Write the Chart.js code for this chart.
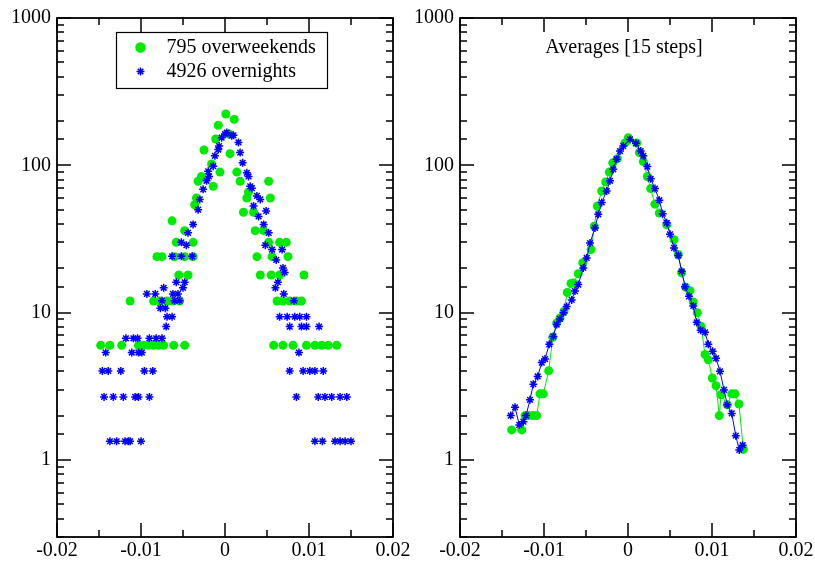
<!DOCTYPE html>
<html>
<head>
<meta charset="utf-8">
<script src="https://cdn.jsdelivr.net/npm/chart.js@4/dist/chart.umd.min.js"></script>
<style>
html,body{margin:0;padding:0;background:#fff;overflow:hidden;width:815px;height:562px;}
#w1{position:absolute;left:0;top:0;}
#w2{position:absolute;left:400px;top:0;}
</style>
</head>
<body>
<div id="w1"><canvas id="c1" width="430" height="562"></canvas></div>
<div id="w2"><canvas id="c2" width="430" height="562"></canvas></div>
<script>
// ---------- tick labels ----------
const xTickLabels = ['-0.02', '-0.01', '0', '0.01', '0.02'];
const yTickLabels = ['1', '10', '100', '1000'];

// ---------- left panel: 795 overweekends ----------
const weekendX = [
  -0.0148,-0.0137,-0.0123,-0.0103,-0.0097,-0.0091,-0.0085,-0.0079,-0.0073,-0.0061,-0.0048,
  0.0058,0.0069,0.0081,0.0097,0.0107,0.0115,0.0123,0.0133,
  -0.0113,-0.0085,-0.0077,-0.0069,-0.0062,-0.0054,0.0062,0.0069,0.0077,0.0085,0.0091,
  -0.0055,-0.0044,0.0042,0.0055,0.0065,0.0094,
  -0.0081,-0.0075,-0.0060,-0.0048,-0.0038,0.0038,0.0056,0.0075,
  -0.0058,-0.0038,0.0052,0.0065,0.0073,
  -0.0048,0.0036,0.0046,
  -0.0063,
  0.0022,0.0034,
  -0.0036,
  -0.0034,0.0026,0.0054,
  0.0028,
  -0.0014,
  -0.0032,0.0018,0.0052,
  -0.0028,
  -0.0006,0.0014,
  -0.0016,
  0.0006,
  -0.0025,
  -0.0011,
  0.0005,
  -0.0008,
  0.0011,
  0.0001
];
const weekendY = [
  6,6,6,6,6,6,6,6,6,6,6,
  6,6,6,6,6,6,6,6,
  12,12,12,12,12,12,12,12,12,12,12,
  18,18,18,18,18,18,
  24,24,24,24,24,24,24,24,
  30,30,30,30,30,
  36,36,36,
  42,
  48,48,
  54,
  60,60,60,
  66,
  72,
  78,78,78,
  84,
  90,90,
  102,
  120,
  127,
  151,
  163,
  187,
  205,
  223
];

// ---------- left panel: 4926 overnights ----------
const nightX = [
  -0.0137,-0.0129,-0.0119,-0.0115,-0.0113,-0.0100,0.0107,0.0116,0.0131,0.0137,0.0143,0.0150,
  -0.0144,-0.0133,-0.0121,-0.0107,-0.0103,-0.0090,0.0085,0.0111,0.0119,0.0127,0.0137,0.0145,
  -0.0146,-0.0139,-0.0124,-0.0096,-0.0086,0.0077,0.0093,0.0101,0.0107,0.0117,
  -0.0142,-0.0111,-0.0103,-0.0099,0.0088,
  -0.0118,-0.0109,-0.0104,-0.0090,-0.0082,-0.0075,
  -0.0070,0.0077,0.0091,0.0097,0.0112,
  -0.0069,-0.0063,0.0065,0.0074,0.0083,0.0089,0.0097,
  -0.0077,-0.0071,
  -0.0075,-0.0060,-0.0054,0.0082,
  -0.0093,-0.0083,-0.0062,-0.0056,0.0070,
  -0.0073,-0.0050,0.0060,
  -0.0058,-0.0048,0.0063,
  0.0071,
  0.0069,
  0.0061,
  -0.0063,-0.0052,-0.0039,
  0.0068,0.0056,
  -0.0046,0.0048,
  -0.0052,
  -0.0044,0.0052,
  -0.0038,0.0046,
  0.0040,
  0.0049,
  -0.0032,
  0.0034,
  -0.0030,0.0042,
  0.0038,
  -0.0026,
  0.0032,
  0.0030,
  -0.0022,
  -0.0019,0.0028,
  0.0026,
  -0.0020,
  -0.0014,
  0.0021,
  -0.0012,
  0.0018,
  -0.0008,
  -0.0007,
  0.0016,
  -0.0004,
  0.0008,
  0.0010,
  0.0000,
  0.0002
];
const nightY = [
  1.34,1.34,1.34,1.34,1.34,1.34,1.34,1.34,1.34,1.34,1.34,1.34,
  2.68,2.68,2.68,2.68,2.68,2.68,2.68,2.68,2.68,2.68,2.68,2.68,
  4.02,4.02,4.02,4.02,4.02,4.02,4.02,4.02,4.02,4.02,
  5.36,5.36,5.36,5.36,5.36,
  6.7,6.7,6.7,6.7,6.7,6.7,
  8.04,8.04,8.04,8.04,8.04,
  9.38,9.38,9.38,9.38,9.38,9.38,9.38,
  10.72,10.72,
  12.06,12.06,12.06,12.06,
  13.4,13.4,13.4,13.4,13.4,
  14.74,14.74,14.74,
  16.08,16.08,16.08,
  18.76,
  20.1,
  22.8,
  24.1,24.1,24.1,
  26.8,26.8,
  28.7,28.7,
  30,
  34.8,34.8,
  39.7,39.7,
  45,
  49,
  50,
  53,
  58.7,58.7,
  62,
  68.7,
  70,
  72,
  78.5,
  84,84,
  89,
  91,
  98.6,
  104,
  116,
  122,
  128,
  135,
  143,
  154,
  159,
  160,
  163,
  167
];

// ---------- right panel: averages [15 steps] ----------
const avgWeekendX = [
  -0.01385,-0.01265,-0.01225,-0.01187,-0.01135,-0.01087,-0.01048,-0.01008,-0.00944,-0.00896,
  -0.00849,-0.00810,-0.00762,-0.00723,-0.00679,-0.00651,-0.00592,-0.00539,-0.00440,-0.00401,
  -0.00365,-0.00313,-0.00265,-0.00223,-0.00182,-0.00127,-0.00036,0.00004,0.00104,0.00135,
  0.00182,0.00230,0.00270,0.00321,0.00373,0.00461,0.00548,0.00599,0.00639,0.00687,
  0.00738,0.00777,0.00825,0.00869,0.00917,0.00956,0.01004,0.01048,0.01087,0.01107,
  0.01182,0.01235,0.01274,0.01321,0.01373
];
const avgWeekendY = [
  1.6,1.6,2.0,2.0,2.0,2.0,2.81,2.81,4.03,6.8,
  8.5,9.2,10.2,13.7,15.8,15.9,18.4,21.8,26.8,38.6,
  53,67,77,90,104,111,142,154,142,122,
  106,84,69.5,54.5,47.5,39.5,31.3,24.8,18.6,14.9,
  14.1,11.8,10.0,8.1,5.2,4.78,3.6,3.19,2.0,2.77,
  2.37,2.81,2.81,2.4,1.18
];
const avgNightX = [
  -0.01396,-0.01345,-0.01294,-0.01246,-0.01214,-0.01167,-0.01127,-0.01075,-0.01027,-0.00988,
  -0.00937,-0.00889,-0.00849,-0.00810,-0.00768,-0.00730,-0.00670,-0.00631,-0.00592,-0.00532,
  -0.00492,-0.00452,-0.00393,-0.00354,-0.00313,-0.00254,-0.00214,-0.00175,-0.00135,-0.00095,
  -0.00056,0.00024,0.00095,0.00151,0.00182,0.00230,0.00270,0.00321,0.00373,0.00413,
  0.00461,0.00500,0.00548,0.00599,0.00639,0.00679,0.00726,0.00777,0.00818,0.00865,
  0.00917,0.00956,0.01008,0.01048,0.01095,0.01143,0.01182,0.01235,0.01283,0.01325,0.01365
];
const avgNightY = [
  2.0,2.28,1.73,1.82,2.0,2.56,3.27,3.69,4.58,4.84,
  6.1,6.9,8.3,9.07,10.0,11,12.2,14,15.5,20.1,
  23.5,29.7,37.6,46.5,56,67,78.5,94,110,125,
  135,150,141,125,116,98,81,69.5,58,47,
  40.7,34,27.5,24.4,19.1,15,12.9,11.1,8.6,7.6,
  7.35,6.1,5.46,4.9,4.0,2.99,2.37,2.07,1.46,1.17,1.26
];

const weekendLabel = '795 overweekends';
const nightLabel = '4926 overnights';
const avgTitle = 'Averages [15 steps]';

// ---------- styles ----------
const GREEN = 'rgb(0,235,0)';
const BLUE = 'rgb(0,0,255)';
const FONT = "'Liberation Serif', 'Times New Roman', Times, serif";

Chart.defaults.font.family = FONT;
Chart.defaults.font.size = 20;
Chart.defaults.color = '#000';

const pts = (xs, ys) => xs.map((x, i) => ({x: x, y: ys[i]}));

function isDecade(v) {
  const lg = Math.log10(v);
  return Math.abs(lg - Math.round(lg)) < 1e-6;
}
function isXMajor(v) {
  return Math.abs(v * 100 - Math.round(v * 100)) < 1e-6;
}

const frameTicks = {
  id: 'frameTicks',
  afterDraw(chart) {
    const ctx = chart.ctx, a = chart.chartArea;
    const xs = chart.scales.x, ys = chart.scales.y;
    ctx.save();
    ctx.strokeStyle = '#000';
    ctx.lineWidth = 1.5;
    ctx.beginPath();
    xs.ticks.forEach(t => {
      const px = Math.round(xs.getPixelForValue(t.value));
      const L = isXMajor(t.value) ? 14 : 7;
      ctx.moveTo(px, a.bottom); ctx.lineTo(px, a.bottom - L);
      ctx.moveTo(px, a.top); ctx.lineTo(px, a.top + L);
    });
    ys.ticks.forEach(t => {
      const py = Math.round(ys.getPixelForValue(t.value));
      const L = isDecade(t.value) ? 14 : 7;
      ctx.moveTo(a.left, py); ctx.lineTo(a.left + L, py);
      ctx.moveTo(a.right, py); ctx.lineTo(a.right - L, py);
    });
    ctx.stroke();
    ctx.lineWidth = 1.8;
    ctx.strokeRect(a.left, a.top, a.right - a.left, a.bottom - a.top);
    ctx.restore();
  }
};

function drawMarker(ctx, style, r, color, x, y) {
  ctx.save();
  ctx.fillStyle = color; ctx.strokeStyle = color; ctx.lineWidth = 1.5;
  if (Chart.helpers && Chart.helpers.drawPoint) {
    Chart.helpers.drawPoint(ctx, {pointStyle: style, radius: r, borderWidth: 1.5, rotation: 0}, x, y);
    if (style === 'circle') ctx.fill();
  } else {
    ctx.beginPath(); ctx.arc(x, y, r, 0, Math.PI * 2); ctx.fill();
  }
  ctx.restore();
}

const legendBox = {
  id: 'legendBox',
  afterDraw(chart) {
    const ctx = chart.ctx, a = chart.chartArea;
    const bx = a.left + 59.5, by = a.top + 14.5, bw = 211, bh = 56;
    ctx.save();
    ctx.strokeStyle = '#000'; ctx.lineWidth = 1.2;
    ctx.strokeRect(bx, by, bw, bh);
    drawMarker(ctx, 'circle', 4.5, GREEN, bx + 24, by + 15);
    drawMarker(ctx, 'star', 4, BLUE, bx + 24, by + 39);
    ctx.fillStyle = '#000';
    ctx.font = '20px ' + FONT;
    ctx.textBaseline = 'middle';
    ctx.textAlign = 'left';
    ctx.fillText(weekendLabel, bx + 50, by + 15);
    ctx.fillText(nightLabel, bx + 50, by + 39);
    ctx.restore();
  }
};

const titleInside = {
  id: 'titleInside',
  afterDraw(chart) {
    const ctx = chart.ctx, a = chart.chartArea;
    ctx.save();
    ctx.fillStyle = '#000';
    ctx.font = '20px ' + FONT;
    ctx.textBaseline = 'middle';
    ctx.textAlign = 'center';
    ctx.fillText(avgTitle, (a.left + a.right) / 2 - 4, a.top + 30);
    ctx.restore();
  }
};

function makeOptions(yWidth, padRight) {
  return {
    responsive: false,
    animation: false,
    devicePixelRatio: 1,
    layout: {padding: {left: 0, top: 18, right: padRight, bottom: 0}},
    plugins: {legend: {display: false}, tooltip: {enabled: false}, title: {display: false}},
    scales: {
      x: {
        type: 'linear', min: -0.02, max: 0.02,
        grid: {display: false, drawTicks: false},
        border: {display: false},
        ticks: {
          stepSize: 0.005, autoSkip: false, maxRotation: 0, padding: 2,
          callback: v => isXMajor(v) ? xTickLabels[Math.round(v * 100) + 2] : ''
        },
        afterFit: s => { s.height = 25; }
      },
      y: {
        type: 'logarithmic', min: 0.3, max: 1000,
        grid: {display: false, drawTicks: false},
        border: {display: false},
        ticks: {
          autoSkip: false, padding: 6,
          callback: v => isDecade(v) ? yTickLabels[Math.round(Math.log10(v))] : ''
        },
        afterFit: s => { s.width = yWidth; }
      }
    }
  };
}

new Chart(document.getElementById('c1'), {
  type: 'scatter',
  data: {
    datasets: [
      {label: nightLabel, data: pts(nightX, nightY), pointStyle: 'star', pointRadius: 4,
       borderColor: BLUE, backgroundColor: BLUE, pointBorderWidth: 1.5, showLine: false},
      {label: weekendLabel, data: pts(weekendX, weekendY), pointStyle: 'circle', pointRadius: 4.5,
       borderColor: GREEN, backgroundColor: GREEN, pointBorderWidth: 0, showLine: false}
    ]
  },
  options: makeOptions(57, 37),
  plugins: [frameTicks, legendBox]
});

new Chart(document.getElementById('c2'), {
  type: 'scatter',
  data: {
    datasets: [
      {label: nightLabel, data: pts(avgNightX, avgNightY), pointStyle: 'star', pointRadius: 4,
       borderColor: BLUE, backgroundColor: BLUE, pointBorderWidth: 1.5, borderWidth: 1,
       showLine: true, tension: 0},
      {label: weekendLabel, data: pts(avgWeekendX, avgWeekendY), pointStyle: 'circle', pointRadius: 4.5,
       borderColor: GREEN, backgroundColor: GREEN, pointBorderWidth: 0, borderWidth: 1,
       showLine: true, tension: 0}
    ]
  },
  options: makeOptions(60, 34),
  plugins: [frameTicks, titleInside]
});
</script>
</body>
</html>
